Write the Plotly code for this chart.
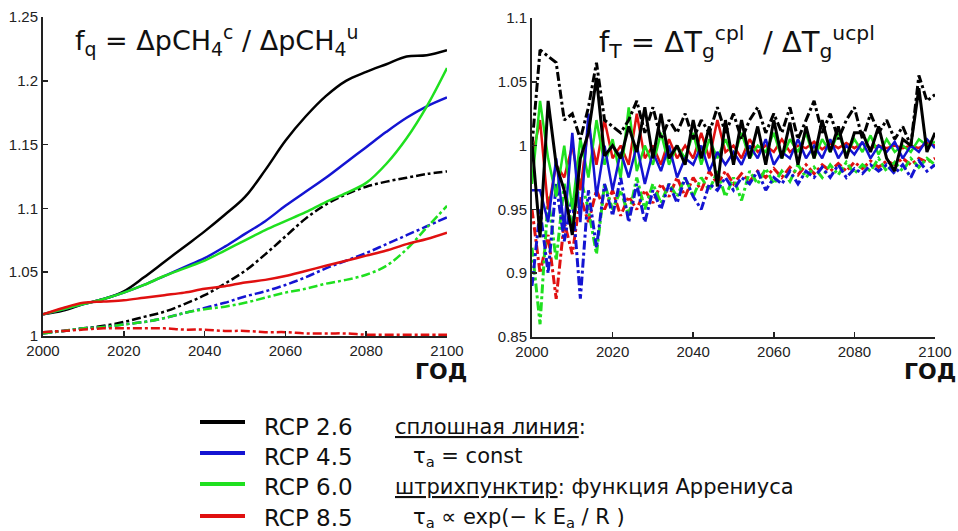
import plotly.graph_objects as go

# ---------------- data ----------------
years_l = list(range(2000, 2101, 5))
fq_rcp26_const = [1.017, 1.020, 1.025, 1.029, 1.035, 1.046, 1.058, 1.070, 1.082, 1.095, 1.109, 1.130, 1.153, 1.172, 1.188, 1.200, 1.207, 1.213, 1.219, 1.220, 1.224]
fq_rcp45_const = [1.017, 1.021, 1.025, 1.029, 1.034, 1.040, 1.047, 1.054, 1.061, 1.070, 1.080, 1.090, 1.102, 1.113, 1.124, 1.136, 1.148, 1.160, 1.171, 1.180, 1.187]
fq_rcp60_const = [1.017, 1.021, 1.025, 1.029, 1.034, 1.040, 1.047, 1.053, 1.059, 1.067, 1.075, 1.083, 1.090, 1.097, 1.105, 1.112, 1.120, 1.135, 1.155, 1.180, 1.210]
fq_rcp85_const = [1.017, 1.022, 1.026, 1.027, 1.028, 1.030, 1.032, 1.034, 1.037, 1.039, 1.042, 1.044, 1.047, 1.051, 1.055, 1.059, 1.063, 1.067, 1.072, 1.076, 1.081]
fq_rcp26_arr = [1.003, 1.004, 1.006, 1.008, 1.011, 1.015, 1.019, 1.025, 1.032, 1.041, 1.051, 1.064, 1.078, 1.092, 1.103, 1.111, 1.117, 1.121, 1.124, 1.127, 1.129]
fq_rcp45_arr = [1.002, 1.004, 1.006, 1.007, 1.009, 1.011, 1.014, 1.018, 1.022, 1.026, 1.031, 1.035, 1.040, 1.046, 1.053, 1.059, 1.065, 1.072, 1.079, 1.086, 1.093]
fq_rcp60_arr = [1.002, 1.004, 1.006, 1.007, 1.009, 1.011, 1.014, 1.018, 1.021, 1.023, 1.026, 1.030, 1.034, 1.037, 1.041, 1.044, 1.048, 1.055, 1.068, 1.085, 1.102]
fq_rcp85_arr = [1.003, 1.004, 1.005, 1.006, 1.006, 1.006, 1.006, 1.005, 1.005, 1.004, 1.004, 1.003, 1.003, 1.002, 1.002, 1.002, 1.001, 1.001, 1.001, 1.001, 1.001]

years_r = list(range(2000, 2101, 2))
ft_rcp26_const = [1.002, 0.928, 1.035, 0.985, 0.965, 0.930, 0.990, 1.010, 1.053, 0.992, 1.000, 0.990, 1.015, 0.995, 1.030, 0.990, 1.025, 0.990, 1.000, 0.985, 1.020, 0.990, 1.015, 0.968, 1.020, 0.985, 1.020, 0.990, 1.015, 0.985, 1.020, 0.990, 1.018, 0.985, 1.015, 0.990, 1.020, 0.995, 1.015, 0.990, 1.010, 1.010, 0.995, 1.015, 0.990, 0.980, 1.005, 1.000, 1.045, 0.995, 1.010]
ft_rcp26_arr = [1.000, 1.075, 1.070, 1.065, 1.020, 1.025, 1.005, 1.030, 1.065, 1.020, 1.015, 1.010, 1.020, 1.035, 1.010, 1.030, 1.005, 1.020, 1.010, 1.025, 1.005, 1.020, 1.010, 1.030, 1.010, 1.025, 1.005, 1.020, 1.030, 1.010, 1.025, 1.010, 1.030, 1.005, 1.020, 1.035, 1.010, 1.025, 1.005, 1.020, 1.030, 1.005, 1.025, 1.010, 1.020, 1.005, 1.015, 1.000, 1.055, 1.035, 1.040]
ft_rcp45_const = [0.965, 0.965, 0.940, 0.990, 0.935, 1.010, 0.940, 1.025, 0.960, 1.000, 0.965, 0.995, 0.975, 1.000, 0.970, 0.995, 0.980, 1.000, 0.975, 0.990, 0.985, 1.000, 0.980, 0.995, 0.985, 0.995, 0.985, 1.000, 0.990, 1.005, 0.985, 0.995, 0.990, 1.005, 0.990, 1.000, 0.990, 1.005, 0.990, 1.000, 0.993, 1.003, 0.990, 1.000, 0.995, 1.003, 0.990, 1.000, 0.995, 1.005, 0.998]
ft_rcp60_const = [0.970, 1.035, 0.990, 0.960, 1.000, 0.950, 1.005, 0.975, 1.020, 0.985, 1.005, 0.975, 1.030, 0.980, 1.000, 0.985, 1.010, 0.985, 1.000, 0.990, 1.010, 0.985, 1.005, 0.990, 1.005, 0.990, 1.010, 0.990, 1.000, 0.995, 1.010, 0.990, 1.005, 0.995, 1.010, 0.990, 1.005, 0.995, 1.010, 0.993, 1.005, 0.995, 1.008, 0.993, 1.005, 0.995, 1.000, 0.995, 1.005, 1.000, 1.003]
ft_rcp85_const = [0.990, 1.020, 0.950, 0.985, 0.975, 1.000, 0.965, 1.015, 0.985, 1.020, 0.990, 1.000, 0.985, 1.025, 0.990, 1.000, 0.985, 1.005, 0.990, 1.000, 0.990, 1.010, 0.990, 1.020, 0.995, 1.000, 0.990, 1.005, 0.995, 1.000, 0.995, 1.005, 0.995, 1.000, 0.998, 1.003, 0.997, 1.002, 0.998, 1.002, 0.998, 1.002, 0.998, 1.000, 0.998, 1.000, 0.998, 1.000, 0.998, 1.002, 1.000]
ft_rcp45_arr = [0.890, 0.950, 0.900, 0.970, 0.925, 0.960, 0.880, 0.965, 0.920, 0.970, 0.945, 0.975, 0.940, 0.970, 0.940, 0.965, 0.950, 0.970, 0.955, 0.975, 0.960, 0.950, 0.970, 0.965, 0.975, 0.965, 0.975, 0.970, 0.980, 0.965, 0.975, 0.970, 0.980, 0.970, 0.980, 0.975, 0.983, 0.975, 0.985, 0.975, 0.982, 0.978, 0.985, 0.980, 0.985, 0.978, 0.985, 0.975, 0.988, 0.980, 0.985]
ft_rcp60_arr = [0.920, 0.860, 0.960, 0.910, 0.970, 0.935, 0.975, 0.950, 0.915, 0.970, 0.950, 0.965, 0.945, 0.975, 0.950, 0.970, 0.955, 0.970, 0.960, 0.975, 0.960, 0.975, 0.965, 0.980, 0.960, 0.975, 0.957, 0.980, 0.970, 0.982, 0.970, 0.980, 0.972, 0.985, 0.975, 0.983, 0.975, 0.985, 0.977, 0.987, 0.978, 0.985, 0.980, 0.990, 0.980, 0.987, 0.980, 0.990, 0.983, 0.990, 0.985]
ft_rcp85_arr = [0.950, 0.900, 0.930, 0.880, 0.940, 0.915, 0.960, 0.940, 0.965, 0.950, 0.965, 0.945, 0.960, 0.950, 0.965, 0.955, 0.970, 0.960, 0.975, 0.960, 0.975, 0.965, 0.980, 0.970, 0.980, 0.970, 0.978, 0.972, 0.980, 0.975, 0.982, 0.975, 0.983, 0.977, 0.985, 0.978, 0.985, 0.980, 0.986, 0.980, 0.987, 0.982, 0.988, 0.983, 0.988, 0.985, 0.990, 0.985, 0.990, 0.987, 0.990]

scenarios = ["RCP 2.6", "RCP 4.5", "RCP 6.0", "RCP 8.5"]
colors = ["#000000", "#1414d2", "#1fe01f", "#e01010"]

xticks = [2000, 2020, 2040, 2060, 2080, 2100]
yticks_l = [1.0, 1.05, 1.1, 1.15, 1.2, 1.25]
yticks_r = [0.85, 0.9, 0.95, 1.0, 1.05, 1.1]

# ---------------- figure ----------------
fig = go.Figure()

left_const = [fq_rcp26_const, fq_rcp45_const, fq_rcp60_const, fq_rcp85_const]
left_arr = [fq_rcp26_arr, fq_rcp45_arr, fq_rcp60_arr, fq_rcp85_arr]
right_const = [ft_rcp26_const, ft_rcp45_const, ft_rcp60_const, ft_rcp85_const]
right_arr = [ft_rcp26_arr, ft_rcp45_arr, ft_rcp60_arr, ft_rcp85_arr]

for i in range(4):
    fig.add_trace(go.Scatter(x=years_l, y=left_arr[i], mode="lines", xaxis="x", yaxis="y",
                             line=dict(color=colors[i], width=2.5, dash="dashdot", shape="spline"),
                             showlegend=False))
for i in range(4):
    fig.add_trace(go.Scatter(x=years_l, y=left_const[i], mode="lines", xaxis="x", yaxis="y",
                             line=dict(color=colors[i], width=2.5, shape="spline"),
                             showlegend=False))

for i in [3, 2, 1]:
    fig.add_trace(go.Scatter(x=years_r, y=right_arr[i], mode="lines", xaxis="x2", yaxis="y2",
                             line=dict(color=colors[i], width=3, dash="dashdot"),
                             showlegend=False))
for i in [3, 2, 1]:
    fig.add_trace(go.Scatter(x=years_r, y=right_const[i], mode="lines", xaxis="x2", yaxis="y2",
                             line=dict(color=colors[i], width=2.5),
                             showlegend=False))
fig.add_trace(go.Scatter(x=years_r, y=right_arr[0], mode="lines", xaxis="x2", yaxis="y2",
                         line=dict(color=colors[0], width=3, dash="dashdot"), showlegend=False))
fig.add_trace(go.Scatter(x=years_r, y=right_const[0], mode="lines", xaxis="x2", yaxis="y2",
                         line=dict(color=colors[0], width=3), showlegend=False))

tickfont = dict(family="Liberation Sans, Arial", size=15, color="#222222")
axis_common = dict(showline=True, linecolor="#222222", linewidth=2, ticks="inside", ticklen=5,
                   tickwidth=1.5, tickcolor="#222222", showgrid=False, zeroline=False,
                   tickfont=tickfont, mirror=False, automargin=False)

# positions below are given in screen pixels (page margin removed by post_script)
W, H = 958, 531
def px(xp):
    return xp / W
def py(yp):
    return 1 - yp / H

fig.update_layout(
    width=W, height=H,
    margin=dict(l=0, r=0, t=0, b=0, pad=0),
    paper_bgcolor="white", plot_bgcolor="white",
    hovermode=False,
    xaxis=dict(domain=[px(43), px(447)], range=[2000, 2100], tickvals=xticks, anchor="y", **axis_common),
    yaxis=dict(domain=[py(336), py(17)], range=[1.0, 1.25], tickvals=yticks_l, anchor="x", **axis_common),
    xaxis2=dict(domain=[px(532), px(935)], range=[2000, 2100], tickvals=xticks, anchor="y2", **axis_common),
    yaxis2=dict(domain=[py(337), py(18)], range=[0.85, 1.1], tickvals=yticks_r, anchor="x2", **axis_common),
)

fig.add_annotation(xref="paper", yref="paper", x=px(217), y=py(40), xanchor="center", yanchor="middle",
                   text="f<sub>q</sub> = ΔpCH<sub>4</sub><sup>c</sup> / ΔpCH<sub>4</sub><sup>u</sup>",
                   showarrow=False, font=dict(family="DejaVu Sans", size=27, color="#111111"))
fig.add_annotation(xref="paper", yref="paper", x=px(737), y=py(42), xanchor="center", yanchor="middle",
                   text="f<sub>T</sub> = ΔT<sub>g</sub><sup>cpl</sup>  / ΔT<sub>g</sub><sup>ucpl</sup>",
                   showarrow=False, font=dict(family="DejaVu Sans", size=29, color="#111111"))

god_font = dict(family="DejaVu Sans", size=22, color="#111111")
for xr in [441, 930]:
    fig.add_annotation(xref="paper", yref="paper", x=px(xr), y=py(371), xanchor="center", yanchor="middle",
                       text="<b>ГОД</b>", showarrow=False, font=god_font)

rcp_font = dict(family="DejaVu Sans", size=23, color="#111111")
desc_font = dict(family="DejaVu Sans", size=21, color="#111111")
line_y = [422, 453, 484, 516]
text_y = [427, 457, 487, 518]
for i in range(4):
    fig.add_shape(type="line", xref="paper", yref="paper", x0=px(200), x1=px(245),
                  y0=py(line_y[i]), y1=py(line_y[i]), line=dict(color=colors[i], width=4))
    fig.add_annotation(xref="paper", yref="paper", x=px(262), y=py(text_y[i]), xanchor="left", yanchor="middle",
                       text=scenarios[i], showarrow=False, font=rcp_font)

desc = [
    (393, "<u>сплошная линия</u>:"),
    (411, "τ<sub>a</sub> = const"),
    (393, "<u>штрихпунктир</u>: функция Аррениуса"),
    (411, "τ<sub>a</sub> ∝ exp(− k E<sub>a</sub> / R )"),
]
for i, (xx, t) in enumerate(desc):
    fig.add_annotation(xref="paper", yref="paper", x=px(xx), y=py(text_y[i]), xanchor="left", yanchor="middle",
                       text=t, showarrow=False, font=desc_font)

fig.write_html(
    "out.html",
    config={"displayModeBar": False, "staticPlot": True},
    post_script="document.documentElement.style.margin='0';document.body.style.margin='0';"
                "document.documentElement.style.overflow='hidden';document.body.style.overflow='hidden';",
)
